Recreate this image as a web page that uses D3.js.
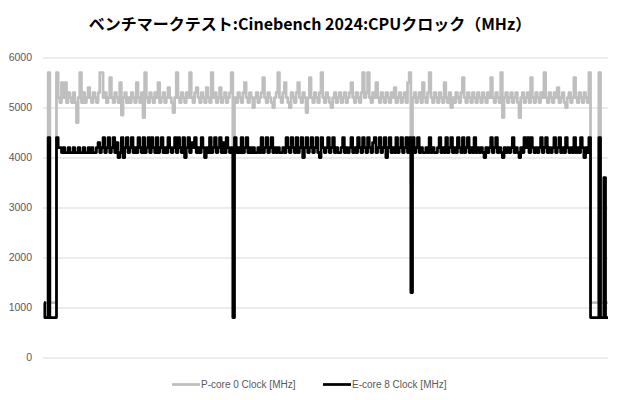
<!DOCTYPE html>
<html><head><meta charset="utf-8">
<script src="https://cdn.jsdelivr.net/npm/d3@7"></script>
<style>body{margin:0;background:#fff}svg{display:block}</style>
</head><body>
<script>
const title = "ベンチマークテスト:Cinebench 2024:CPUクロック（MHz）";
const seriesNames = ["P-core 0 Clock [MHz]", "E-core 8 Clock [MHz]"];
const yTicks = [0, 1000, 2000, 3000, 4000, 5000, 6000];

const pCore = [
1100,1100,1100,5700,1100,1100,1100,1100,5700,5200,5100,5500,5200,5500,5100,5300,5200,5100,5300,5100,
4700,5200,5700,5100,5300,5100,5200,5400,5200,5100,5300,5200,5100,5300,5700,5700,5200,5300,5100,5200,
5600,5200,5100,5300,5200,5100,5500,4850,5200,5300,5100,5200,5100,5300,5200,5100,5500,5200,5100,5300,
4800,5700,5200,5100,5300,5200,5100,5300,5200,5500,5100,5200,5300,5100,5200,5400,5200,5100,4900,5200,
5700,5200,5100,5300,5200,5100,5300,5200,5700,5200,5100,5300,5400,5200,5100,5300,5200,5100,5400,5200,
5100,5700,5200,5300,5100,5200,5400,5100,5200,5300,5100,5200,5300,5700,3000,5200,5100,5300,5200,5100,
5300,5500,5200,5100,5300,5200,5000,5200,5300,5100,5200,5300,5600,5200,5100,5300,5200,5100,5000,5200,
5300,5700,5200,5100,5300,5500,5200,5100,5000,5300,5200,5100,5300,5500,5200,5100,5300,5200,4900,5200,
5600,5200,5100,5300,5200,5100,5300,5700,5200,5100,5300,5200,5100,5000,5200,5300,5100,5200,5300,5100,
5200,5300,5100,5200,5300,5500,5200,5100,5300,5200,5100,5300,5700,5200,5300,5700,5200,5100,5300,5200,
5500,5200,5100,5300,5200,5100,5300,5200,5100,5300,5200,5400,5100,5200,5300,5100,5200,5300,5100,5500,
5700,3500,5200,5300,5100,5200,5300,5100,5500,5200,5100,5300,5700,5200,5100,5300,5200,5100,5300,5200,
5100,5500,5200,5100,5300,5000,5200,5100,5300,5200,5100,5300,5600,5200,5100,5300,5200,5100,5300,5200,
5100,5300,5200,5100,5300,5200,5100,5300,5200,5600,5200,5100,5300,5200,5100,5700,4800,5200,5300,5100,
5200,5300,5100,5200,5300,5100,4800,5200,5300,5100,5200,5300,5100,5600,5200,5100,5300,5200,5100,5300,
5200,5700,5200,5100,5300,5200,5100,5300,5200,5400,5100,5200,5300,5100,5000,5200,5300,5100,5200,5600,
5200,5100,5300,5200,5100,5300,5200,5100,5700,1100,1100,1100,1100,1100,5700,1100,1100,1100,1100,1100
];

const eCore = [
1100,800,800,4400,800,800,800,800,4400,4200,4200,4100,4200,4100,4100,4200,4100,4100,4200,4100,
4100,4200,4100,4100,4200,4100,4100,4200,4100,4200,4100,4100,4200,4300,4100,4200,4400,4100,4200,4400,
4100,4200,4400,4100,4300,4000,4100,4400,4000,4200,4400,4100,4200,4400,4100,4200,4100,4400,4200,4100,
4400,4100,4200,4400,4100,4400,4200,4100,4400,4100,4200,4400,4100,4200,4100,4400,4200,4100,4200,4400,
4100,4400,4200,4100,4400,4000,4200,4400,4100,4300,4200,4400,4100,4200,4100,4400,4200,4000,4200,4100,
4400,4100,4200,4400,4100,4200,4400,4100,4300,4100,4400,4200,4100,4200,800,4400,4100,4200,4100,4400,
4100,4200,4400,4100,4200,4100,4200,4100,4100,4200,4100,4400,4100,4200,4400,4100,4200,4400,4100,4200,
4100,4200,4100,4100,4200,4100,4400,4200,4100,4400,4200,4100,4400,4100,4200,4400,4000,4200,4400,4100,
4200,4400,4100,4200,4400,4100,4000,4400,4200,4100,4200,4400,4100,4200,4400,4100,4200,4100,4100,4200,
4400,4100,4200,4100,4200,4400,4100,4200,4100,4400,4200,4100,4400,4200,4100,4400,4200,4100,4300,4400,
4100,4200,4400,4100,4200,4400,4000,4200,4400,4100,4200,4100,4400,4100,4200,4400,4100,4200,4400,4100,
4400,1300,4400,4100,4200,4400,4100,4200,4100,4100,4200,4100,4400,4100,4200,4100,4100,4200,4400,4100,
4200,4100,4400,4100,4200,4400,4100,4200,4100,4400,4200,4100,4400,4100,4200,4400,4100,4200,4100,4400,
4100,4200,4100,4200,4100,4000,4200,4100,4200,4400,4100,4200,4400,4100,4200,4100,4000,4200,4100,4200,
4100,4200,4400,4100,4200,4100,4000,4200,4100,4400,4200,4400,4100,4400,4200,4100,4200,4100,4200,4400,
4100,4200,4400,4100,4200,4100,4200,4400,4100,4200,4400,4100,4200,4100,4400,4200,4100,4200,4100,4400,
4100,4200,4100,4400,4200,4000,4200,4100,4400,800,800,800,800,800,4400,800,800,3600,800,800
];

const W = 620, H = 400;
const margin = {left: 43, right: 12, top: 57.5, bottom: 42.5};
const svg = d3.select("body").append("svg").attr("width", W).attr("height", H);

const x = d3.scaleLinear().domain([0, pCore.length - 1]).range([margin.left + 1, W - margin.right]);
const y = d3.scaleLinear().domain([0, 6000]).range([H - margin.bottom, margin.top]);

svg.append("text").attr("x", 310).attr("y", 30).attr("text-anchor", "middle")
  .attr("font-family", "'Noto Sans CJK JP', 'Noto Sans', sans-serif").attr("font-weight", "bold")
  .attr("font-size", 16).attr("fill", "#000").text(title);

const yAxis = d3.axisLeft(y).tickValues(yTicks).tickSize(-(W - margin.left - margin.right)).tickPadding(11).tickFormat(d3.format("d"));
const ga = svg.append("g").attr("transform", `translate(${margin.left},0)`).call(yAxis);
ga.select(".domain").remove();
ga.selectAll(".tick line").attr("stroke", "#d9d9d9").attr("stroke-width", 1);
ga.selectAll(".tick text").attr("fill", "#595959").attr("font-size", 10.5)
  .attr("font-family", "'Liberation Sans', Arial, sans-serif");

const line = d3.line().x((d, i) => x(i)).y(d => y(d)).curve(d3.curveStep);
const colors = ["#bfbfbf", "#000000"];
[pCore, eCore].forEach((s, k) => {
  svg.append("path").datum(s).attr("d", line).attr("fill", "none")
    .attr("stroke", colors[k]).attr("stroke-width", 2.75).attr("stroke-linejoin", "round");
});

const legX = [172, 323];
seriesNames.forEach((n, k) => {
  const g = svg.append("g").attr("transform", `translate(${legX[k]},384.5)`);
  g.append("line").attr("x1", 0).attr("x2", 28).attr("stroke", colors[k]).attr("stroke-width", 2.75);
  g.append("text").attr("x", 29).attr("y", 3.5).attr("font-size", 10).attr("fill", "#595959")
    .attr("font-family", "'Liberation Sans', Arial, sans-serif").text(n);
});
</script>
</body></html>
